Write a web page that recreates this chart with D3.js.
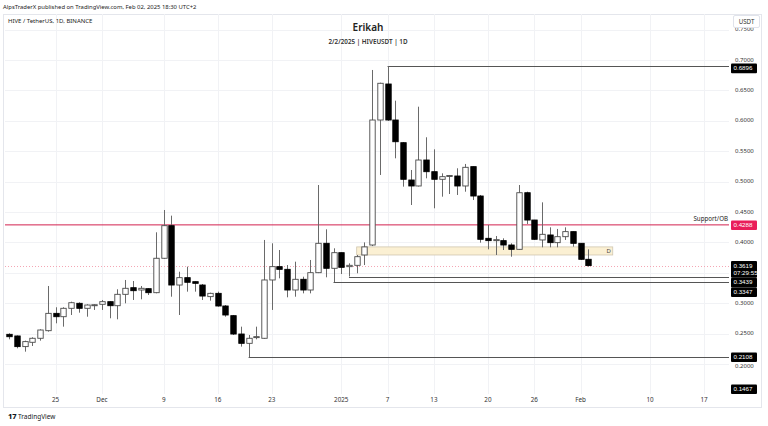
<!DOCTYPE html>
<html><head><meta charset="utf-8">
<script src="https://cdn.jsdelivr.net/npm/d3@7"></script>
<style>body{margin:0;background:#fff;} svg{display:block;font-family:"Noto Sans",sans-serif;}</style>
</head><body><svg id="c" width="768" height="426"></svg>
<script>
// ---- data ----
const firstDay = "2024-11-19";
const opens  = [0.2488,0.2461,0.2286,0.2357,0.2423,0.2548,0.2833,0.2778,0.2916,0.2998,0.2916,0.2965,0.2982,0.3025,0.2959,0.3146,0.3255,0.3217,0.3239,0.3173,0.3739,0.4275,0.3299,0.3420,0.3354,0.3299,0.3108,0.3162,0.2954,0.2795,0.2493,0.2340,0.2440,0.2423,0.3382,0.3601,0.3557,0.3217,0.3393,0.3217,0.3502,0.3985,0.3574,0.3831,0.3601,0.3623,0.3793,0.3957,0.6013,0.6605,0.6013,0.5640,0.5026,0.4928,0.5355,0.5163,0.5038,0.5092,0.5092,0.4928,0.5246,0.4763,0.4067,0.4040,0.4029,0.3957,0.3886,0.4817,0.4368,0.4040,0.4122,0.3996,0.4094,0.4177,0.3985,0.3722];
const highs  = [0.2505,0.2470,0.2384,0.2439,0.2571,0.3283,0.2933,0.2933,0.3025,0.3014,0.2982,0.2982,0.3053,0.3030,0.3229,0.3382,0.3365,0.3283,0.3245,0.4166,0.4533,0.4440,0.3518,0.3601,0.3360,0.3316,0.3173,0.3190,0.2970,0.2806,0.2614,0.2477,0.2614,0.4040,0.3985,0.3875,0.3628,0.3683,0.3436,0.3711,0.4944,0.4215,0.3903,0.3835,0.3656,0.3793,0.4000,0.6836,0.6627,0.6896,0.6331,0.5650,0.5191,0.6232,0.5729,0.5531,0.5136,0.5109,0.5219,0.5290,0.5250,0.4780,0.4286,0.4105,0.4067,0.3985,0.4944,0.4834,0.4370,0.4659,0.4248,0.4221,0.4248,0.4180,0.3990,0.3886];
const lows   = [0.2406,0.2258,0.2203,0.2296,0.2384,0.2532,0.2669,0.2614,0.2806,0.2844,0.2778,0.2889,0.2889,0.2752,0.2735,0.2998,0.3053,0.3064,0.3135,0.3163,0.3730,0.3107,0.2806,0.3190,0.3190,0.3053,0.3042,0.2943,0.2778,0.2477,0.2286,0.2108,0.2406,0.2415,0.2889,0.3409,0.3097,0.3107,0.3162,0.3162,0.3495,0.3426,0.3347,0.3480,0.3439,0.3492,0.3628,0.3940,0.5109,0.6000,0.5383,0.4917,0.4615,0.4920,0.5054,0.4561,0.4752,0.4796,0.4780,0.4834,0.4697,0.3996,0.3886,0.3793,0.3875,0.3765,0.3880,0.4303,0.4040,0.3919,0.3919,0.3919,0.4040,0.3930,0.3711,0.3601];
const closes = [0.2449,0.2286,0.2368,0.2423,0.2559,0.2833,0.2778,0.2916,0.3008,0.2916,0.2970,0.2975,0.3025,0.2959,0.3146,0.3245,0.3206,0.3245,0.3173,0.3739,0.4275,0.3299,0.3420,0.3344,0.3327,0.3118,0.3162,0.2954,0.2806,0.2493,0.2340,0.2423,0.2450,0.3382,0.3601,0.3557,0.3217,0.3393,0.3217,0.3502,0.3985,0.3574,0.3831,0.3590,0.3623,0.3765,0.3926,0.6013,0.6617,0.6013,0.5656,0.5038,0.4928,0.5355,0.5163,0.5038,0.5081,0.5100,0.4928,0.5235,0.4763,0.4051,0.4029,0.4045,0.3957,0.3886,0.4817,0.4368,0.4051,0.4133,0.3996,0.4094,0.4177,0.3985,0.3722,0.3619];

const tickDates  = ["2024-11-25","2024-12-01","2024-12-09","2024-12-16","2024-12-23","2025-01-01","2025-01-07","2025-01-13","2025-01-20","2025-01-26","2025-02-01","2025-02-10","2025-02-17"];
const tickLabels = ["25","Dec","9","16","23","2025","7","13","20","26","Feb","10","17"];
const priceTicks = [0.15,0.20,0.25,0.30,0.35,0.40,0.45,0.50,0.55,0.60,0.65,0.70,0.75];
const hiddenTicks = [0.15,0.35];

const rayLevels = [0.6896,0.3439,0.3347,0.2108];
const rayStartIdx = [49,44,42,31];
const supportLevel = 0.4288;
const supportText = "Support/OB";
const zonePrices = [0.3793,0.3926];
const zoneDates = ["2025-01-03","2025-02-05T04:00"];
const zoneText = "D";
const lastPrice = 0.3619;
const countdown = "07:29:55";
const extraLabel = 0.1467;

const header = "AlpsTraderX published on TradingView.com, Feb 02, 2025 18:30 UTC+2";
const symbolLine = "HIVE / TetherUS, 1D, BINANCE";
const title = "Erikah";
const subtitle = "2/2/2025 | HIVEUSDT | 1D";
const currency = "USDT";

// ---- layout ----
const svg = d3.select("#c");
const L = 5, R = 729, T = 14, B = 394;
const parse = s => new Date(s + (s.length === 10 ? "T00:00Z" : "Z"));
const day0 = parse(firstDay);
const dates = d3.utcDay.range(day0, d3.utcDay.offset(day0, opens.length));
const data = dates.map((d,i)=>({d, o:opens[i], h:highs[i], l:lows[i], c:closes[i]}));

const x = d3.scaleUtc().domain([day0, dates[dates.length-1]]).range([9.3, 9.3 + 75*7.72]);
const y = d3.scaleLinear().domain([0.2, 0.7]).range([364, 60]);

// frame
svg.append("rect").attr("x",0).attr("y",0).attr("width",768).attr("height",426).attr("fill","#fff");
svg.append("rect").attr("x",3.5).attr("y",T+0.5).attr("width",758).attr("height",393).attr("fill","none").attr("stroke","#e4e6ec");
svg.append("text").attr("x",3).attr("y",8.5).attr("font-size",5.9).attr("fill","#222").text(header);

const clip = svg.append("defs").append("clipPath").attr("id","pc");
clip.append("rect").attr("x",L).attr("y",T).attr("width",R-L).attr("height",B-T);
const g = svg.append("g").attr("clip-path","url(#pc)");

// grid
g.selectAll(".hg").data(priceTicks).join("line")
  .attr("x1",L).attr("x2",R).attr("y1",d=>Math.round(y(d))+0.5).attr("y2",d=>Math.round(y(d))+0.5)
  .attr("stroke","#f1f2f5");
g.selectAll(".vg").data(tickDates).join("line")
  .attr("x1",d=>Math.round(x(parse(d)))+0.5).attr("x2",d=>Math.round(x(parse(d)))+0.5).attr("y1",T).attr("y2",B)
  .attr("stroke","#f1f2f5");

// title
svg.append("text").attr("x",368).attr("y",31).attr("text-anchor","middle").attr("font-size",10).attr("font-weight",600).attr("fill","#222").text(title);
svg.append("text").attr("x",368).attr("y",44).attr("text-anchor","middle").attr("font-size",6.3).attr("font-weight",600).attr("fill","#333").text(subtitle);
svg.append("text").attr("x",8).attr("y",23).attr("font-size",6).attr("fill","#222").text(symbolLine);

// support line
g.append("line").attr("x1",L).attr("x2",R).attr("y1",y(supportLevel)).attr("y2",y(supportLevel)).attr("stroke","#d3204f").attr("stroke-width",1);
svg.append("text").attr("x",728).attr("y",y(supportLevel)-4).attr("text-anchor","end").attr("font-size",6.2).attr("fill","#222").text(supportText);

// last price dotted line
g.append("line").attr("x1",L).attr("x2",R).attr("y1",Math.round(y(lastPrice))+0.5).attr("y2",Math.round(y(lastPrice))+0.5)
  .attr("stroke","#f4a6b4").attr("stroke-dasharray","1,2");

// zone
const zx0 = x(parse(zoneDates[0])), zx1 = x(parse(zoneDates[1]));
g.append("rect").attr("x",zx0).attr("y",y(zonePrices[1])).attr("width",zx1-zx0).attr("height",y(zonePrices[0])-y(zonePrices[1]))
  .attr("fill","#fbf0d3").attr("stroke","#cfc6b0").attr("stroke-width",0.8);
svg.append("text").attr("x",zx1-4).attr("y",(y(zonePrices[0])+y(zonePrices[1]))/2+2.2).attr("text-anchor","middle").attr("font-size",6).attr("fill","#444").text(zoneText);

// rays
g.selectAll(".ray").data(rayLevels).join("line")
  .attr("x1",(d,i)=>x(dates[rayStartIdx[i]])).attr("x2",R)
  .attr("y1",d=>Math.round(y(d))+0.5).attr("y2",d=>Math.round(y(d))+0.5)
  .attr("stroke","#555").attr("stroke-width",1);

// candles
const bw = 5.4;
const cg = g.append("g");
cg.selectAll(".wick").data(data).join("line")
  .attr("x1",d=>Math.round(x(d.d))+0.5).attr("x2",d=>Math.round(x(d.d))+0.5)
  .attr("y1",d=>y(d.h)).attr("y2",d=>y(d.l)).attr("stroke","#6a6a6a").attr("stroke-width",1);
cg.selectAll(".body").data(data).join("rect")
  .attr("x",d=>Math.round(x(d.d))+0.5-bw/2).attr("width",bw)
  .attr("y",d=>y(Math.max(d.o,d.c)))
  .attr("height",d=>Math.max(1,Math.abs(y(d.o)-y(d.c))))
  .attr("fill",d=>d.c>=d.o?"#fff":"#000")
  .attr("stroke",d=>d.c>=d.o?"#4a4a4a":"#000").attr("stroke-width",0.9);

// x axis labels
svg.selectAll(".xl").data(tickDates).join("text")
  .attr("x",d=>x(parse(d))).attr("y",402).attr("text-anchor","middle")
  .attr("font-size",6.3).attr("fill","#333").text((d,i)=>tickLabels[i]);

// y axis tick labels
svg.selectAll(".yl").data(priceTicks.filter(p=>!hiddenTicks.includes(p))).join("text")
  .attr("x",735).attr("y",d=>y(d)+(d===0.2?3.6:1.6)).attr("font-size",6).attr("fill","#333").text(d=>d3.format(".4f")(d));

// USDT box
svg.append("rect").attr("x",733.5).attr("y",15.5).attr("width",26).attr("height",12).attr("fill","#fff").attr("stroke","#e0e3eb").attr("rx",1.5);
svg.append("text").attr("x",746.5).attr("y",23.8).attr("text-anchor","middle").attr("font-size",6.2).attr("fill","#333").text(currency);

// price labels with collision resolution
const labels = [
  {p:rayLevels[0], bg:"#000", lines:[d3.format(".4f")(rayLevels[0])], off:1.8},
  {p:supportLevel, bg:"#e91e5a", lines:[d3.format(".4f")(supportLevel)], off:0},
  {p:lastPrice, bg:"#000", lines:[d3.format(".4f")(lastPrice), countdown], off:0},
  {p:rayLevels[1], bg:"#000", lines:[d3.format(".4f")(rayLevels[1])], off:0},
  {p:rayLevels[2], bg:"#000", lines:[d3.format(".4f")(rayLevels[2])], off:0},
  {p:rayLevels[3], bg:"#000", lines:[d3.format(".4f")(rayLevels[3])], off:-0.5},
  {p:extraLabel, bg:"#000", lines:[d3.format(".4f")(extraLabel)], off:0}
];
const LH = 7.2;
labels.forEach(l=>{l.h = 2.4 + l.lines.length*LH; l.top = y(l.p) - 4.5 + l.off;});
labels.sort((a,b)=>a.top-b.top);
for(let i=1;i<labels.length;i++){ const prev=labels[i-1]; if(labels[i].top < prev.top+prev.h) labels[i].top = prev.top+prev.h; }
labels.forEach(l=>{ if(l.top+l.h > B) l.top = B - l.h; });
const lg = svg.append("g");
labels.forEach(l=>{
  lg.append("rect").attr("x",731).attr("y",l.top).attr("width",26).attr("height",l.h).attr("fill",l.bg).attr("rx",1);
  l.lines.forEach((t,k)=>lg.append("text").attr("x",733.5).attr("y",l.top+6.6+k*LH)
    .attr("font-family","'Liberation Sans',sans-serif").attr("font-size",6.2).attr("fill","#fff").text(t));
});

// footer logo
svg.append("text").attr("x",8).attr("y",419).attr("font-size",7.5).attr("font-weight",800).attr("fill","#131722").text("17");
svg.append("text").attr("x",18).attr("y",419).attr("font-size",6.5).attr("fill","#131722").text("TradingView");
</script></body></html>
